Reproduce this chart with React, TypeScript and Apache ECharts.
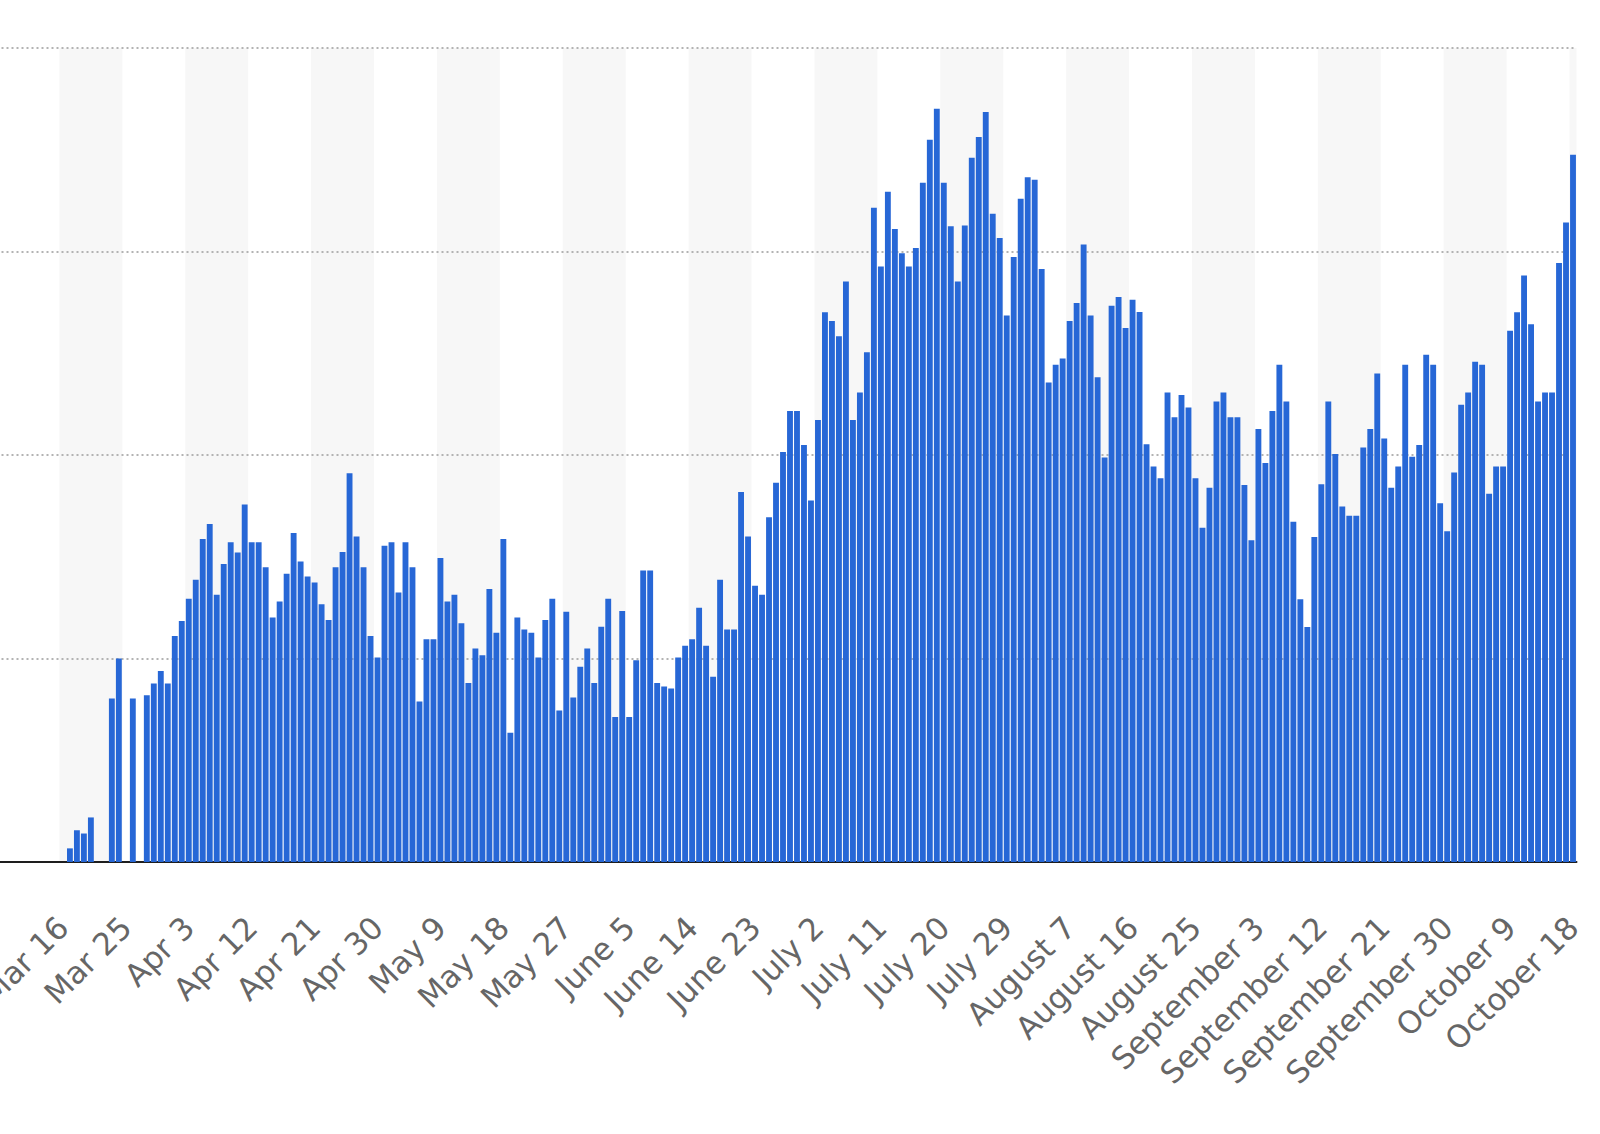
import React, { useEffect, useRef } from "react";
import * as echarts from "echarts";

// Month names and lengths used to build the daily category labels (Mar 7 – Oct 18)
const monthNames = ["Mar", "Apr", "May", "June", "July", "August", "September", "October"];
const monthLengths = [31, 30, 31, 30, 31, 31, 30, 31];
const startDay = 7; // first category: Mar 7
const endDay = 18; // last category: October 18

const categories: string[] = [];
monthNames.forEach((m, mi) => {
  const from = mi === 0 ? startDay : 1;
  const to = mi === monthNames.length - 1 ? endDay : monthLengths[mi];
  for (let d = from; d <= to; d++) categories.push(`${m} ${d}`);
});

// Daily values, Mar 7 .. Mar 16 (no cases shown)
const valuesEarlyMarch = [0, 0, 0, 0, 0, 0, 0, 0, 0, 0];

// Mar 17 .. Apr 30
const valuesMarApr = [
  67, 156, 140, 219, 0, 0, 803, 1000, 0, 803, 0, 819, 877, 939, 877,
  1110, 1184, 1293, 1387, 1587, 1661, 1313, 1464, 1571, 1521, 1757, 1571, 1571, 1449, 1202,
  1280, 1416, 1617, 1477, 1403, 1373, 1266, 1189, 1449, 1523, 1910, 1600, 1449, 1110, 1005,
];

// May 1 .. June 30
const valuesMayJun = [
  1554, 1571, 1324, 1571, 1449, 789, 1094, 1094, 1494, 1280, 1313, 1173, 880, 1049, 1016,
  1341, 1127, 1587, 635, 1202, 1143, 1127, 1005, 1189, 1293, 745, 1230, 808, 959, 1049, 880,
  1156, 1293, 712, 1234, 712, 992, 1433, 1433, 880, 863, 852, 1005, 1063, 1094, 1250, 1063,
  910, 1387, 1143, 1143, 1818, 1600, 1357, 1313, 1694, 1864, 2015, 2216, 2216, 2049,
];

// July 1 .. August 31
const valuesJulAug = [
  1777, 2172, 2702, 2658, 2584, 2852, 2172, 2307, 2505, 3215, 2926, 3294, 3110, 2991, 2926,
  3017, 3338, 3549, 3701, 3338, 3124, 2852, 3128, 3461, 3563, 3686, 3186, 3066, 2686, 2973,
  3259, 3365, 3352, 2914, 2356, 2444, 2474, 2658, 2747, 3035, 2686, 2382, 1988, 2733, 2777,
  2624, 2763, 2703, 2053, 1944, 1886, 2307, 2186, 2295, 2233, 1886, 1642, 1839, 2263, 2307,
  2186, 2186,
];

// September 1 .. October 18
const valuesSepOct = [
  1853, 1581, 2128, 1961, 2216, 2444, 2263, 1672, 1291, 1155, 1597, 1856, 2263, 2005, 1747,
  1702, 1702, 2037, 2128, 2400, 2081, 1839, 1944, 2444, 1991, 2049, 2493, 2444, 1763, 1625,
  1914, 2247, 2307, 2458, 2444, 1809, 1944, 1944, 2610, 2702, 2882, 2642, 2263, 2307, 2307,
  2944, 3142, 3475,
];

const dailyValues = [
  ...valuesEarlyMarch,
  ...valuesMarApr,
  ...valuesMayJun,
  ...valuesJulAug,
  ...valuesSepOct,
];

const yTicks = [0, 1000, 2000, 3000, 4000];

export default function App() {
  const ref = useRef<HTMLDivElement>(null);

  useEffect(() => {
    if (!ref.current) return;
    const chart = echarts.init(ref.current, undefined, { renderer: "svg" });
    chart.setOption({
      animation: false,
      backgroundColor: "#ffffff",
      grid: {
        left: -3.5,
        right: 23.5,
        top: 48,
        bottom: 272,
        containLabel: false,
        outerBoundsMode: "none",
      },
      xAxis: {
        type: "category",
        data: categories,
        boundaryGap: true,
        z: 0,
        axisLine: { show: true, lineStyle: { color: "#1e1e1e", width: 2 } },
        axisTick: { show: false },
        splitLine: { show: false },
        splitArea: {
          show: true,
          interval: 8,
          areaStyle: { color: ["rgba(255,255,255,0)", "#f7f7f7"] },
        },
        axisLabel: {
          interval: 8,
          rotate: 45,
          margin: 60,
          fontSize: 31,
          color: "#666666",
          fontFamily: "DejaVu Sans",
          formatter: (v: string, i: number) => (i === 0 ? "" : v),
        },
      },
      yAxis: {
        type: "value",
        z: 1,
        min: yTicks[0],
        max: yTicks[yTicks.length - 1],
        interval: yTicks[1] - yTicks[0],
        axisLabel: { show: false },
        axisLine: { show: false },
        axisTick: { show: false },
        splitLine: {
          show: true,
          showMinLine: false,
          lineStyle: { color: "#b3b3b3", width: 2, type: [2, 3] },
        },
      },
      series: [
        {
          type: "bar",
          z: 2,
          data: dailyValues,
          barCategoryGap: "16%",
          itemStyle: { color: "#2767d6" },
        },
      ],
    });
    return () => chart.dispose();
  }, []);

  return (
    <div
      ref={ref}
      style={{ position: "absolute", left: 0, top: 0, width: 1600, height: 1134 }}
    />
  );
}
